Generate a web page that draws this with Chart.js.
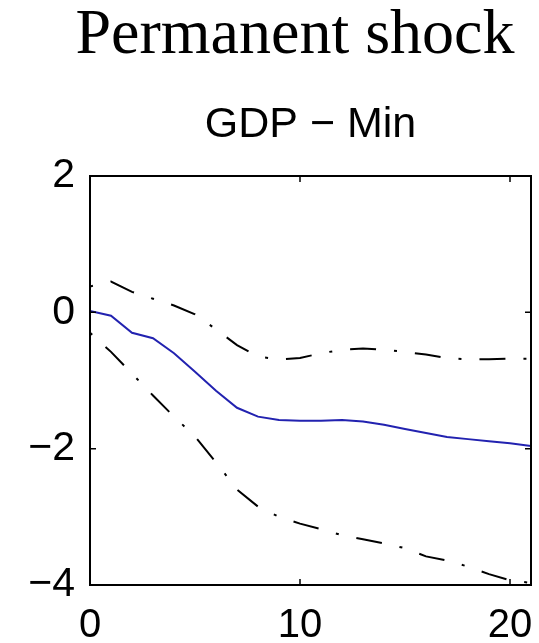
<!DOCTYPE html>
<html>
<head>
<meta charset="utf-8">
<script src="https://cdn.jsdelivr.net/npm/chart.js@4"></script>
<style>
  html, body { margin: 0; padding: 0; background: #fff; }
  #wrap { width: 539px; height: 643px; }
</style>
</head>
<body>
<div id="wrap"><canvas id="irf" width="539" height="643"></canvas></div>
<script>
// horizon (quarters) and impulse responses
const horizon = [0, 1, 2, 3, 4, 5, 6, 7, 8, 9, 10, 11, 12, 13, 14, 15, 16, 17, 18, 19, 20, 21];
const gdpMedian = [0.02, -0.05, -0.30, -0.38, -0.60, -0.87, -1.15, -1.40, -1.53, -1.58, -1.59,
                   -1.59, -1.58, -1.60, -1.65, -1.71, -1.77, -1.83, -1.86, -1.89, -1.92, -1.96];
const gdpUpper = [0.38, 0.45, 0.30, 0.20, 0.10, -0.03, -0.25, -0.48, -0.65, -0.69, -0.67,
                  -0.60, -0.55, -0.53, -0.55, -0.58, -0.62, -0.67, -0.69, -0.69, -0.68, -0.68];
const gdpLower = [-0.30, -0.58, -0.90, -1.22, -1.53, -1.82, -2.20, -2.60, -2.85, -3.00, -3.10,
                  -3.18, -3.27, -3.33, -3.39, -3.46, -3.58, -3.64, -3.73, -3.84, -3.93, -3.97];
const xTicks = [0, 10, 20];
const yTicks = [-4, -2, 0, 2];
const figTitle = 'Permanent shock';
const axTitle = 'GDP \u2212 Min';

const pts = (ys) => horizon.map((x, i) => ({ x: x, y: ys[i] }));

const dashDot = [3, 18, 26, 18];

// figure title sits off-centre in the original, so it is drawn here
const figureTitle = {
  id: 'figureTitle',
  afterDraw(chart) {
    const ctx = chart.ctx;
    ctx.save();
    ctx.fillStyle = '#000';
    ctx.font = '64px "Liberation Serif"';
    ctx.textAlign = 'center';
    ctx.textBaseline = 'alphabetic';
    ctx.fillText(figTitle, 295, 53);
    ctx.restore();
  }
};

// box round the plot with inward ticks, like the original figure
const frameTicks = {
  id: 'frameTicks',
  afterDraw(chart) {
    const { ctx, chartArea: a, scales } = chart;
    const len = 6;
    ctx.save();
    ctx.strokeStyle = '#000';
    ctx.lineWidth = 1.5;
    ctx.beginPath();
    xTicks.forEach(v => {
      const px = scales.x.getPixelForValue(v);
      ctx.moveTo(px, a.bottom); ctx.lineTo(px, a.bottom - len);
      ctx.moveTo(px, a.top); ctx.lineTo(px, a.top + len);
    });
    yTicks.forEach(v => {
      const py = scales.y.getPixelForValue(v);
      ctx.moveTo(a.left, py); ctx.lineTo(a.left + len, py);
      ctx.moveTo(a.right, py); ctx.lineTo(a.right - len, py);
    });
    ctx.stroke();
    ctx.lineWidth = 2;
    ctx.strokeRect(a.left, a.top, a.right - a.left, a.bottom - a.top);
    ctx.restore();
  }
};

// keep the plot box where the figure has it, labels may hang outside
const noPad = (h) => (s) => {
  s.paddingLeft = 0; s.paddingRight = 0; s.paddingTop = 0; s.paddingBottom = 0;
  if (s.isHorizontal()) s.height = h; else s.width = h;
};

new Chart(document.getElementById('irf'), {
  type: 'line',
  data: {
    datasets: [
      {
        label: 'upper',
        data: pts(gdpUpper),
        borderColor: '#000',
        borderWidth: 2,
        borderDash: dashDot,
        pointRadius: 0,
        tension: 0
      },
      {
        label: 'GDP',
        data: pts(gdpMedian),
        borderColor: '#2222b0',
        borderWidth: 2,
        pointRadius: 0,
        tension: 0
      },
      {
        label: 'lower',
        data: pts(gdpLower),
        borderColor: '#000',
        borderWidth: 2,
        borderDash: dashDot,
        pointRadius: 0,
        tension: 0
      }
    ]
  },
  options: {
    responsive: false,
    animation: false,
    layout: { padding: { left: 0, right: 8, top: 101, bottom: 0 } },
    plugins: {
      legend: { display: false },
      tooltip: { enabled: false },
      title: { display: false }
    },
    scales: {
      x: {
        type: 'linear',
        position: 'bottom',
        min: 0,
        max: 21,
        afterBuildTicks: (s) => { s.ticks = xTicks.map(v => ({ value: v })); },
        afterFit: noPad(58),
        grid: { display: false, drawTicks: false },
        border: { display: false },
        ticks: {
          color: '#000',
          padding: 17,
          maxRotation: 0,
          font: { family: 'Liberation Sans', size: 40 }
        }
      },
      x2: {
        type: 'linear',
        position: 'top',
        min: 0,
        max: 21,
        afterFit: noPad(75),
        grid: { display: false, drawTicks: false },
        border: { display: false },
        ticks: { display: false },
        title: {
          display: true,
          text: axTitle,
          color: '#000',
          padding: { top: 0, bottom: 0 },
          font: { family: 'Liberation Sans', size: 43, lineHeight: 1.1 }
        }
      },
      y: {
        type: 'linear',
        min: -4,
        max: 2,
        afterBuildTicks: (s) => { s.ticks = yTicks.map(v => ({ value: v })); },
        afterFit: noPad(90),
        grid: { display: false, drawTicks: false },
        border: { display: false },
        ticks: {
          color: '#000',
          padding: 15,
          font: { family: 'Liberation Sans', size: 41 },
          callback: (v) => (v < 0 ? '\u2212' + Math.abs(v) : String(v))
        }
      }
    }
  },
  plugins: [figureTitle, frameTicks]
});
</script>
</body>
</html>
